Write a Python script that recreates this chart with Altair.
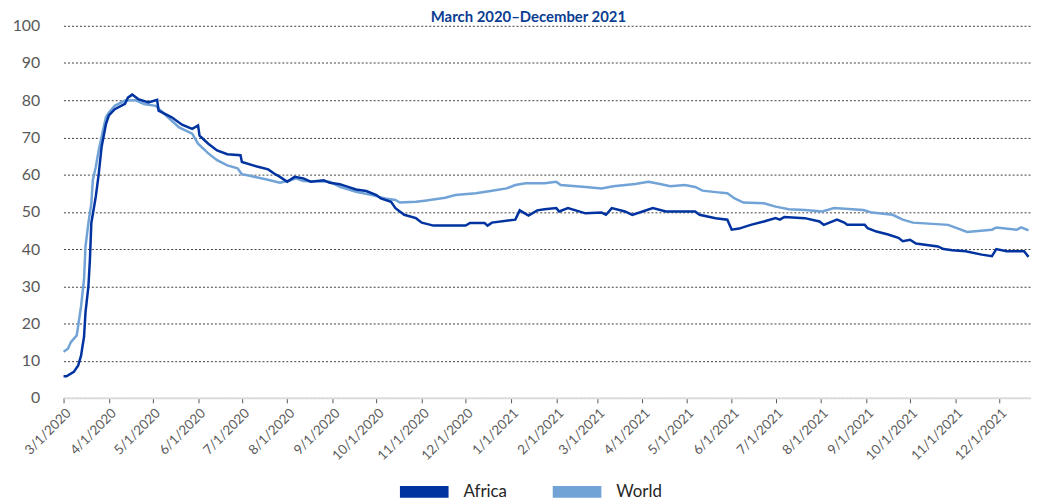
import altair as alt
import pandas as pd

title_text = "March 2020\u2013December 2021"
series_names = ["Africa", "World"]
series_colors = ["#0033A0", "#71A3D7"]

africa_dates = [
    "2020-03-01", "2020-03-03", "2020-03-08", "2020-03-11", "2020-03-13", "2020-03-14", "2020-03-15",
    "2020-03-16", "2020-03-18", "2020-03-19", "2020-03-20", "2020-03-23", "2020-03-25", "2020-03-27",
    "2020-03-30", "2020-04-01", "2020-04-05", "2020-04-12", "2020-04-14", "2020-04-17", "2020-04-21",
    "2020-04-28", "2020-05-04", "2020-05-05", "2020-05-14", "2020-05-21", "2020-05-28", "2020-06-01",
    "2020-06-02", "2020-06-08", "2020-06-14", "2020-06-21", "2020-06-30", "2020-07-01", "2020-07-12",
    "2020-07-19", "2020-07-23", "2020-07-27", "2020-08-01", "2020-08-06", "2020-08-12", "2020-08-17",
    "2020-08-26", "2020-08-30", "2020-09-06", "2020-09-10", "2020-09-17", "2020-09-24", "2020-10-01",
    "2020-10-04", "2020-10-11", "2020-10-14", "2020-10-20", "2020-10-28", "2020-11-01", "2020-11-09",
    "2020-12-01", "2020-12-04", "2020-12-14", "2020-12-16", "2020-12-19", "2021-01-04", "2021-01-07",
    "2021-01-13", "2021-01-19", "2021-01-24", "2021-02-01", "2021-02-03", "2021-02-09", "2021-02-21",
    "2021-03-04", "2021-03-07", "2021-03-11", "2021-03-20", "2021-03-25", "2021-04-01", "2021-04-08",
    "2021-04-17", "2021-05-07", "2021-05-10", "2021-05-21", "2021-05-29", "2021-06-01", "2021-06-06",
    "2021-06-14", "2021-06-23", "2021-07-01", "2021-07-04", "2021-07-07", "2021-07-21", "2021-07-31",
    "2021-08-03", "2021-08-12", "2021-08-17", "2021-08-19", "2021-08-31", "2021-09-02", "2021-09-08",
    "2021-09-16", "2021-09-23", "2021-09-26", "2021-10-01", "2021-10-05", "2021-10-20", "2021-10-24",
    "2021-10-30", "2021-11-08", "2021-11-19", "2021-11-26", "2021-11-29", "2021-12-06", "2021-12-18",
    "2021-12-21",
]
africa_values = [
    5.8, 5.8, 7.0, 8.7, 11.4, 14.0, 16.4,
    23.0, 30.0, 37.0, 47.0, 54.0, 60.0, 67.4,
    73.6, 75.9, 77.6, 79.0, 80.7, 81.5, 80.3,
    79.4, 80.1, 77.2, 75.4, 73.4, 72.3, 73.2,
    70.5, 68.3, 66.5, 65.5, 65.2, 63.4, 62.1,
    61.4, 60.3, 59.4, 58.1, 59.4, 59.0, 58.1,
    58.5, 57.8, 57.4, 56.9, 56.0, 55.6, 54.5,
    53.6, 52.7, 51.0, 49.2, 48.3, 47.1, 46.3,
    46.3, 47.0, 47.0, 46.3, 47.1, 47.9, 50.4,
    49.0, 50.4, 50.7, 51.0, 50.1, 51.0, 49.6,
    49.8, 49.2, 51.0, 50.1, 49.2, 50.1, 51.0,
    50.1, 50.1, 49.2, 48.3, 47.9, 45.2, 45.5,
    46.5, 47.4, 48.3, 47.9, 48.6, 48.3, 47.4,
    46.5, 47.9, 47.1, 46.5, 46.5, 45.6, 44.7,
    43.9, 43.0, 42.1, 42.5, 41.5, 40.7, 40.0,
    39.7, 39.4, 38.5, 38.1, 40.0, 39.4, 39.4,
    37.9,
]

world_dates = [
    "2020-03-01", "2020-03-04", "2020-03-06", "2020-03-10", "2020-03-11", "2020-03-13", "2020-03-15",
    "2020-03-16", "2020-03-18", "2020-03-20", "2020-03-21", "2020-03-23", "2020-03-25", "2020-03-28",
    "2020-03-30", "2020-04-01", "2020-04-05", "2020-04-12", "2020-04-19", "2020-04-25", "2020-05-03",
    "2020-05-09", "2020-05-19", "2020-05-28", "2020-06-01", "2020-06-08", "2020-06-14", "2020-06-21",
    "2020-06-28", "2020-07-01", "2020-07-04", "2020-07-18", "2020-07-27", "2020-08-03", "2020-08-07",
    "2020-08-12", "2020-08-30", "2020-09-06", "2020-09-17", "2020-09-28", "2020-10-07", "2020-10-14",
    "2020-10-17", "2020-10-28", "2020-11-03", "2020-11-10", "2020-11-17", "2020-11-24", "2020-12-08",
    "2020-12-18", "2020-12-29", "2021-01-04", "2021-01-11", "2021-01-24", "2021-02-01", "2021-02-04",
    "2021-02-21", "2021-03-04", "2021-03-12", "2021-03-27", "2021-04-05", "2021-04-13", "2021-04-20",
    "2021-04-30", "2021-05-07", "2021-05-12", "2021-05-21", "2021-05-29", "2021-06-03", "2021-06-09",
    "2021-06-23", "2021-07-01", "2021-07-10", "2021-07-21", "2021-08-02", "2021-08-10", "2021-08-30",
    "2021-09-05", "2021-09-19", "2021-09-26", "2021-10-03", "2021-10-27", "2021-11-02", "2021-11-09",
    "2021-11-26", "2021-11-29", "2021-12-13", "2021-12-16", "2021-12-21",
]
world_values = [
    12.4, 13.2, 15.0, 16.8, 19.4, 24.7, 31.9,
    40.7, 47.0, 52.3, 58.5, 62.0, 66.5, 71.9,
    75.4, 76.7, 78.5, 79.9, 80.0, 79.0, 78.5,
    76.3, 72.7, 71.0, 68.3, 65.7, 63.9, 62.5,
    61.7, 60.1, 59.9, 58.7, 57.8, 58.5, 59.0,
    58.3, 58.1, 56.7, 55.4, 54.5, 53.6, 53.2,
    52.5, 52.7, 53.0, 53.4, 53.8, 54.5, 55.0,
    55.6, 56.3, 57.2, 57.7, 57.7, 58.1, 57.2,
    56.7, 56.3, 56.9, 57.5, 58.1, 57.5, 56.9,
    57.2, 56.7, 55.7, 55.3, 55.0, 53.6, 52.5,
    52.3, 51.4, 50.7, 50.5, 50.1, 51.0, 50.5,
    49.8, 49.2, 47.9, 47.1, 46.5, 45.6, 44.6,
    45.2, 45.8, 45.2, 45.8, 45.0,
]

tick_dates = [
    (2020, 3), (2020, 4), (2020, 5), (2020, 6), (2020, 7), (2020, 8), (2020, 9), (2020, 10),
    (2020, 11), (2020, 12), (2021, 1), (2021, 2), (2021, 3), (2021, 4), (2021, 5), (2021, 6),
    (2021, 7), (2021, 8), (2021, 9), (2021, 10), (2021, 11), (2021, 12),
]
y_ticks = [0, 10, 20, 30, 40, 50, 60, 70, 80, 90, 100]

africa_df = pd.DataFrame({"date": africa_dates, "value": africa_values, "series": "Africa"})
world_df = pd.DataFrame({"date": world_dates, "value": world_values, "series": "World"})

W, H = 975, 375

x_enc = alt.X(
    "date:T",
    scale=alt.Scale(
        type="utc",
        domain=[alt.DateTime(year=2020, month=3, date=1, utc=True),
                alt.DateTime(year=2021, month=12, date=22, hours=17, utc=True)],
        nice=False,
    ),
    axis=alt.Axis(
        title=None,
        values=[alt.DateTime(year=y, month=m, date=1, utc=True) for y, m in tick_dates],
        labelExpr="utcFormat(datum.value, '%-m/%-d/%Y')",
        labelAngle=-45,
        labelAlign="right",
        labelBaseline="top",
        labelPadding=3,
        labelFontSize=13.5,
        labelColor="#595959",
        labelFont="Lato",
        ticks=True,
        tickSize=5,
        tickColor="#595959",
        tickWidth=1,
        domainColor="#D9D9D9",
        domainWidth=2,
        grid=False,
        labelOverlap=False,
    ),
)
y_enc = alt.Y(
    "value:Q",
    scale=alt.Scale(domain=[0, 100], nice=False),
    axis=alt.Axis(
        title=None,
        values=y_ticks,
        labelFontSize=16,
        labelColor="#595959",
        labelFont="Lato",
        labelPadding=24,
        ticks=False,
        domain=False,
        grid=True,
        gridColor="#404040",
        gridDash=[2, 2],
        gridWidth=1,
    ),
)
color_enc = alt.Color(
    "series:N",
    scale=alt.Scale(domain=series_names, range=series_colors),
    legend=alt.Legend(
        title=None,
        orient="none",
        direction="horizontal",
        legendX=333,
        legendY=439,
        symbolType="stroke",
        symbolSize=2401,
        symbolStrokeWidth=12,
        labelFontSize=17,
        labelFont="Lato",
        labelColor="#262626",
        labelOffset=9,
        columnPadding=22,
        padding=0,
    ),
)

world_line = alt.Chart(world_df).mark_line(strokeWidth=2.5).encode(x=x_enc, y=y_enc, color=color_enc)
africa_line = alt.Chart(africa_df).mark_line(strokeWidth=2.5).encode(x=x_enc, y=y_enc, color=color_enc)

title_df = pd.DataFrame({"t": [title_text]})
title_mark = alt.Chart(title_df).mark_text(
    font="Lato", fontSize=15, fontWeight="bold", color="#0B3D91", align="center", baseline="alphabetic"
).encode(text="t:N", x=alt.value(468.5), y=alt.value(-4))

chart = (
    alt.layer(world_line, africa_line, title_mark)
    .properties(
        width=W,
        height=H,
        autosize=alt.AutoSizeParams(type="none"),
        padding={"left": 56, "top": 16, "right": 0, "bottom": 103},
    )
    .configure_view(stroke=None)
)

chart.save("out.html", embed_options={"renderer": "svg", "actions": False})
